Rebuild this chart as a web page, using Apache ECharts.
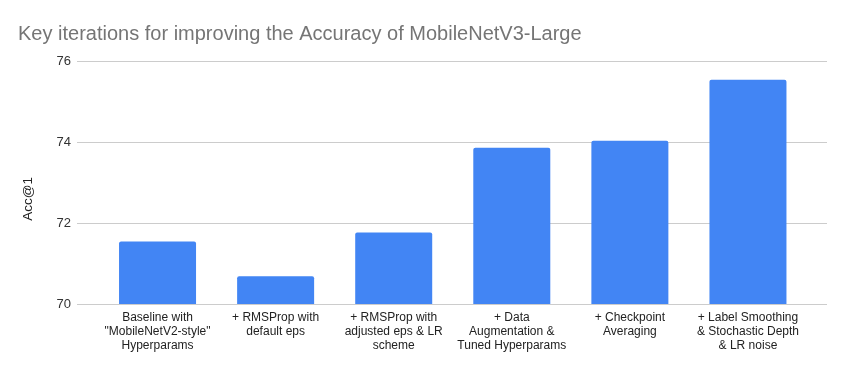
<!DOCTYPE html>
<html><head><meta charset="utf-8">
<script src="https://cdn.jsdelivr.net/npm/echarts@6/dist/echarts.min.js"></script>
<style>html,body{margin:0;padding:0;background:#fff}#c{width:846px;height:371px}</style>
</head><body><div id="c"></div>
<script>
const categories = [
  'Baseline with\n"MobileNetV2-style"\nHyperparams',
  '+ RMSProp with\ndefault eps',
  '+ RMSProp with\nadjusted eps & LR\nscheme',
  '+ Data\nAugmentation &\nTuned Hyperparams',
  '+ Checkpoint\nAveraging',
  '+ Label Smoothing\n& Stochastic Depth\n& LR noise'
];
const accValues = [71.542, 70.684, 71.764, 73.86, 74.028, 75.536];
const yTicks = [70, 72, 74, 76];

const chart = echarts.init(document.getElementById('c'), null, {renderer: 'canvas'});
const font = 'Arial, "Liberation Sans", sans-serif';
chart.setOption({
  animation: false,
  title: {
    text: 'Key iterations for improving the Accuracy of MobileNetV3-Large',
    left: 13, top: 19,
    textStyle: {fontFamily: font, fontSize: 20, fontWeight: 'normal', color: '#757575'}
  },
  grid: [
    {left: 98.5, right: 39, top: 61, bottom: 67},
    {left: 77, right: 19, top: 61, bottom: 67}
  ],
  xAxis: [
    {type: 'category', gridIndex: 0, data: categories,
     axisLine: {show: false}, axisTick: {show: false},
     axisLabel: {interval: 0, margin: 7, fontFamily: font, fontSize: 12, color: '#222', lineHeight: 14}},
    {type: 'value', gridIndex: 1, show: false, min: 0, max: 1}
  ],
  yAxis: [
    {type: 'value', gridIndex: 0, min: yTicks[0], max: yTicks[yTicks.length-1], interval: 2, show: false},
    {type: 'value', gridIndex: 1, min: yTicks[0], max: yTicks[yTicks.length-1], interval: 2,
     axisLine: {show: false}, axisTick: {show: false},
     splitLine: {lineStyle: {color: '#cccccc', width: 1}},
     axisLabel: {margin: 6, fontFamily: font, fontSize: 13, color: '#333'}}
  ],
  graphic: [{
    type: 'text', left: 21, top: 177, rotation: Math.PI/2,
    style: {text: 'Acc@1', font: '13.5px ' + font, fill: '#222'}
  }],
  series: [{
    type: 'bar', xAxisIndex: 0, yAxisIndex: 0, data: accValues,
    barWidth: 77, itemStyle: {color: '#4285F4', borderRadius: [2, 2, 0, 0]}
  }]
});
</script></body></html>
